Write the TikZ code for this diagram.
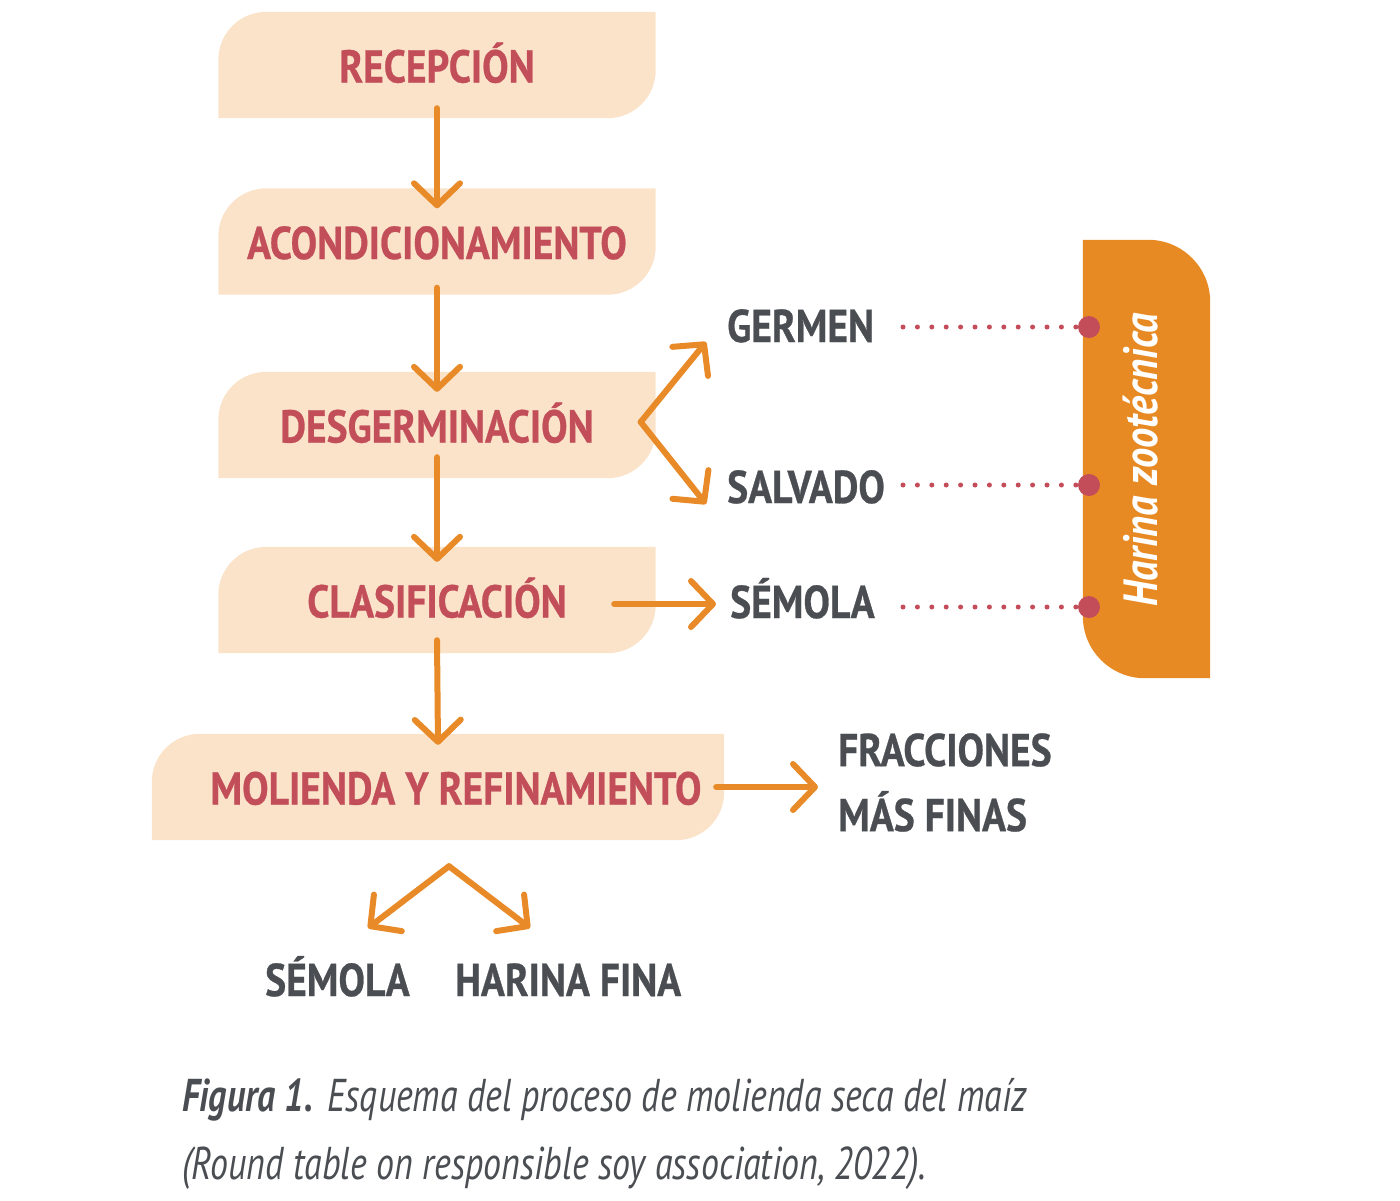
\documentclass[tikz,border=0pt]{standalone}
\usepackage{fontspec}
\setmainfont{PT Sans}
\newfontfamily\lblfont{PT Sans}[FakeStretch=0.86,FakeBold=0.6]
\newfontfamily\hzfont{PT Sans}[FakeStretch=0.84]
\newfontfamily\capfont{PT Sans}[FakeStretch=0.78]
\usetikzlibrary{arrows.meta,calc,backgrounds}
\definecolor{peach}{HTML}{FBE3CA}
\definecolor{boxred}{HTML}{C24E5A}
\definecolor{flowor}{HTML}{E88A27}
\definecolor{graytxt}{HTML}{4A4D52}
\definecolor{dotred}{HTML}{C44D5A}
\definecolor{hzor}{HTML}{E88A24}
\newcommand\peachbg[1]{%
  \fill[peach] (#1.south west) -- ($(#1.north west)+(0,48)$)
    .. controls ($(#1.north west)+(0,21.5)$) and ($(#1.north west)+(21.5,0)$) .. ($(#1.north west)+(48,0)$)
    -- (#1.north east) -- ($(#1.south east)+(0,-48)$)
    .. controls ($(#1.south east)+(0,-21.5)$) and ($(#1.south east)+(-21.5,0)$) .. ($(#1.south east)+(-48,0)$)
    -- cycle;}
\begin{document}
\begin{tikzpicture}[x=1pt,y=-1pt,
  box/.style={minimum width=437pt, minimum height=106pt, inner sep=0pt,
    text height=35pt, text depth=-3pt, text=boxred,
    font=\lblfont\bfseries\fontsize{46}{46}\selectfont},
  lbl/.style={anchor=west, inner sep=0pt, text height=32pt, text depth=0pt,
    text=graytxt, font=\lblfont\bfseries\fontsize{46}{46}\selectfont},
  flow/.style={draw=flowor, line width=6pt, line cap=round, line join=round,
    -{Straight Barb[length=22pt,width=46pt,round]}},
  dotline/.style={draw=dotred, line width=5pt, line cap=round,
    dash pattern=on 0pt off 14.4pt},
  bigdot/.style={circle, fill=dotred, minimum size=22pt, inner sep=0pt},
  capt/.style={anchor=base west, inner sep=0pt, text=graytxt,
    font=\capfont\fontsize{46}{46}\selectfont}]
\useasboundingbox (0,0) rectangle (1400,1200);

% process boxes
\node[box] (rec) at (437,65) {RECEPCIÓN};
\node[box] (aco) at (437,241.5) {ACONDICIONAMIENTO};
\node[box] (des) at (437,425) {DESGERMINACIÓN};
\node[box] (cla) at (437,600) {CLASIFICACIÓN};
\node[box, minimum width=572pt] (mol) at (438,787) {\hspace*{36pt}MOLIENDA Y REFINAMIENTO};

% product labels
\node[lbl] (germ) at (727,326) {GERMEN};
\node[lbl] (salv) at (727,487) {SALVADO};
\node[lbl] (sem1) at (730,602) {SÉMOLA};
\node[lbl, align=left, text height=, text depth=, font=\lblfont\bfseries\fontsize{46}{65}\selectfont] (frac) at (838,782.5) {FRACCIONES\\MÁS FINAS};
\node[lbl] (sem2) at (265,980) {SÉMOLA};
\node[lbl] (har) at (455,980) {HARINA FINA};

% harina zootecnica
\node[minimum width=127pt, minimum height=438pt, inner sep=0pt] (hz) at (1146.5,459) {};
\node[rotate=90, inner sep=0pt, text=white,
  font=\hzfont\bfseries\itshape\fontsize{48}{48}\selectfont] (hzt) at (1141,460) {Harina zootécnica};
\node[bigdot] (d1) at (1089,327) {};
\node[bigdot] (d2) at (1089,485) {};
\node[bigdot] (d3) at (1089,607) {};

\begin{pgfonlayer}{background}
  \peachbg{rec}\peachbg{aco}\peachbg{des}\peachbg{cla}\peachbg{mol}
  \fill[hzor] (hz.north west) -- ($(hz.north east)+(-62,0)$)
    .. controls ($(hz.north east)+(-27.8,0)$) and ($(hz.north east)+(0,27.8)$) .. ($(hz.north east)+(0,62)$)
    -- (hz.south east) -- ($(hz.south west)+(62,0)$)
    .. controls ($(hz.south west)+(27.8,0)$) and ($(hz.south west)+(0,-27.8)$) .. ($(hz.south west)+(0,-62)$)
    -- cycle;
\end{pgfonlayer}

% main flow
\draw[flow] ($(rec.south)+(0,-10)$) -- ($(aco.north)+(0,20)$);
\draw[flow] ($(aco.south)+(0,-7)$) -- ($(des.north)+(0,20)$);
\draw[flow] ($(des.south)+(0,-21)$) -- ($(cla.north)+(0,15)$);
\draw[flow] ($(cla.south)+(0,-13)$) -- ($(mol.north)+(0,11)$);

% branches
\coordinate (v) at ($(des.east)+(-15,-3)$);
\draw[flow] (v) -- ($(germ.west)+(-21,16)$);
\draw[flow] (v) -- ($(salv.west)+(-21,17)$);
\draw[flow] ($(cla.east)+(-41.5,4)$) -- ($(sem1.west)+(-14,2)$);
\draw[flow] ($(mol.east)+(-8,0)$) -- ($(frac.west)+(-20,4.5)$);
\coordinate (apex) at ($(mol.south)+(11,26)$);
\coordinate (lt) at (368,928);
\coordinate (rt) at (530,928);
\draw[flow] (apex) -- (lt);
\draw[flow] (apex) -- (rt);

% dotted connectors
\draw[dotline] ($(d1)+(-186,0)$) -- (d1);
\draw[dotline] ($(d2)+(-186,0)$) -- (d2);
\draw[dotline] ($(d3)+(-186,0)$) -- (d3);

% caption
\node[capt] (cap1) at (182,1111) {\bfseries\itshape Figura 1.\hspace{14pt}\mdseries Esquema del proceso de molienda seca del maíz};
\node[capt] (cap2) at (182,1179) {\itshape (Round table on responsible soy association, 2022).};
\end{tikzpicture}
\end{document}
